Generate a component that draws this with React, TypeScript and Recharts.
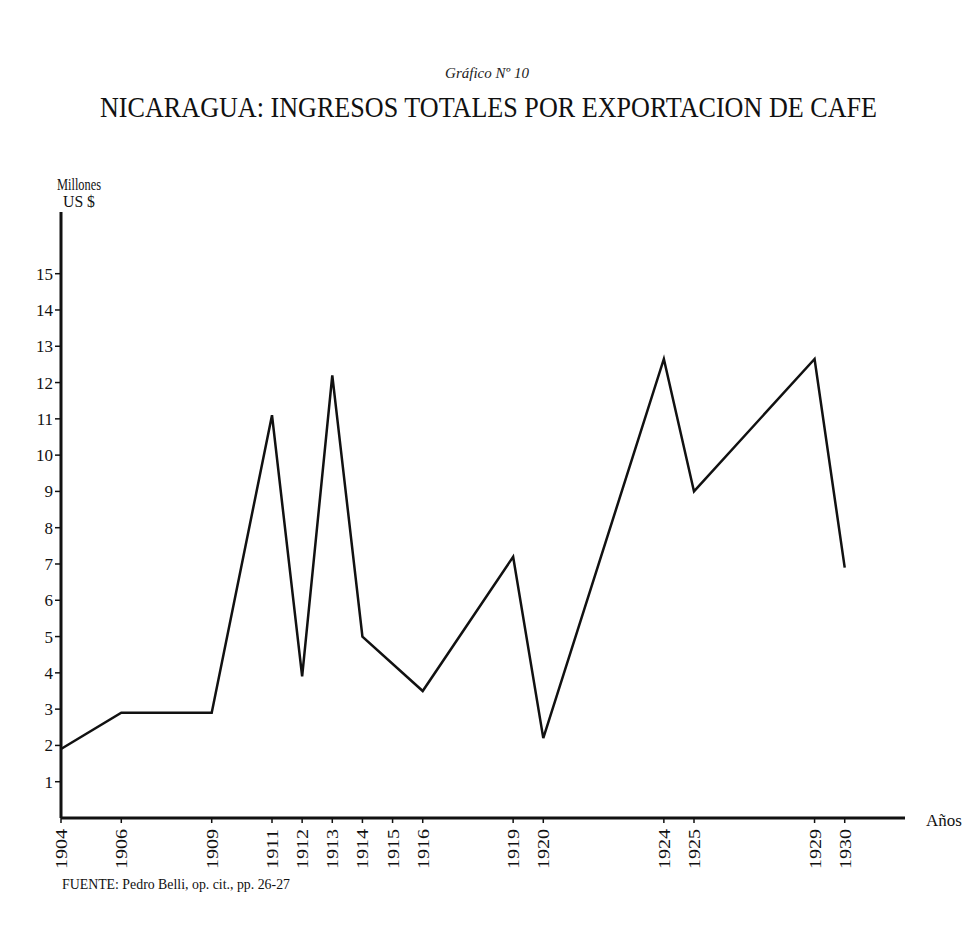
import React from 'react'
import { LineChart, Line, XAxis, YAxis } from 'recharts'

// años con dato y valor en millones de US$
const years = [1904, 1906, 1909, 1911, 1912, 1913, 1914, 1916, 1919, 1920, 1924, 1925, 1929, 1930]
const ingresos = [1.9, 2.9, 2.9, 11.1, 3.9, 12.2, 5.0, 3.5, 7.2, 2.2, 12.65, 9.0, 12.65, 6.9]
const yearTicks = [1904, 1906, 1909, 1911, 1912, 1913, 1914, 1915, 1916, 1919, 1920, 1924, 1925, 1929, 1930]
const valueTicks = [1, 2, 3, 4, 5, 6, 7, 8, 9, 10, 11, 12, 13, 14, 15]

const data = years.map((year, i) => ({ year, value: ingresos[i] }))

const FONT = '"Liberation Serif", "DejaVu Serif", serif'

function YearTick(props: any) {
  const { x, y, payload } = props
  return (
    <text
      x={x}
      y={y + 4}
      transform={`rotate(-90, ${x}, ${y + 4})`}
      textAnchor="end"
      dy="0.35em"
      fontFamily={FONT}
      fontSize={17}
      fill="#111"
      textLength={40}
      lengthAdjust="spacingAndGlyphs"
    >
      {payload.value}
    </text>
  )
}

export default function App() {
  return (
    <div style={{ position: 'absolute', left: 0, top: 0, width: 974, height: 933, background: '#fff' }}>
      <LineChart
        width={974}
        height={933}
        data={data}
        margin={{ top: 212, right: 69, bottom: 55, left: 21 }}
      >
        <XAxis
          dataKey="year"
          type="number"
          domain={[1904, 1932]}
          ticks={yearTicks}
          interval={0}
          height={60}
          tick={<YearTick />}
          tickSize={5}
          axisLine={{ stroke: '#111', strokeWidth: 3 }}
          tickLine={{ stroke: '#111', strokeWidth: 1.5 }}
        />
        <YAxis
          type="number"
          domain={[0, 16.7]}
          ticks={valueTicks}
          interval={0}
          width={40}
          tickSize={6}
          axisLine={{ stroke: '#111', strokeWidth: 3 }}
          tickLine={{ stroke: '#111', strokeWidth: 1.5 }}
          tick={{ fontFamily: FONT, fontSize: 17, fill: '#111' }}
        />
        <Line
          type="linear"
          dataKey="value"
          stroke="#111"
          strokeWidth={2.5}
          dot={false}
          activeDot={false}
          isAnimationActive={false}
        />
      </LineChart>
      <svg
        width={974}
        height={933}
        style={{ position: 'absolute', left: 0, top: 0, pointerEvents: 'none' }}
      >
        <text x={487} y={78} textAnchor="middle" fontFamily={FONT} fontStyle="italic" fontSize={15} fill="#222">
          Gráfico Nº 10
        </text>
        <text
          x={100}
          y={117}
          fontFamily={FONT}
          fontSize={29}
          fill="#111"
          textLength={777}
          lengthAdjust="spacingAndGlyphs"
        >
          NICARAGUA: INGRESOS TOTALES POR EXPORTACION DE CAFE
        </text>
        <text x={57} y={190} fontFamily={FONT} fontSize={16} fill="#111" textLength={44} lengthAdjust="spacingAndGlyphs">
          Millones
        </text>
        <text x={63} y={207} fontFamily={FONT} fontSize={16} fill="#111" textLength={32} lengthAdjust="spacingAndGlyphs">
          US $
        </text>
        <text x={926} y={826} fontFamily={FONT} fontSize={17} fill="#111">
          Años
        </text>
        <text
          x={62}
          y={889}
          fontFamily={FONT}
          fontSize={15}
          fill="#111"
          textLength={228}
          lengthAdjust="spacingAndGlyphs"
        >
          FUENTE: Pedro Belli, op. cit., pp. 26-27
        </text>
      </svg>
    </div>
  )
}
